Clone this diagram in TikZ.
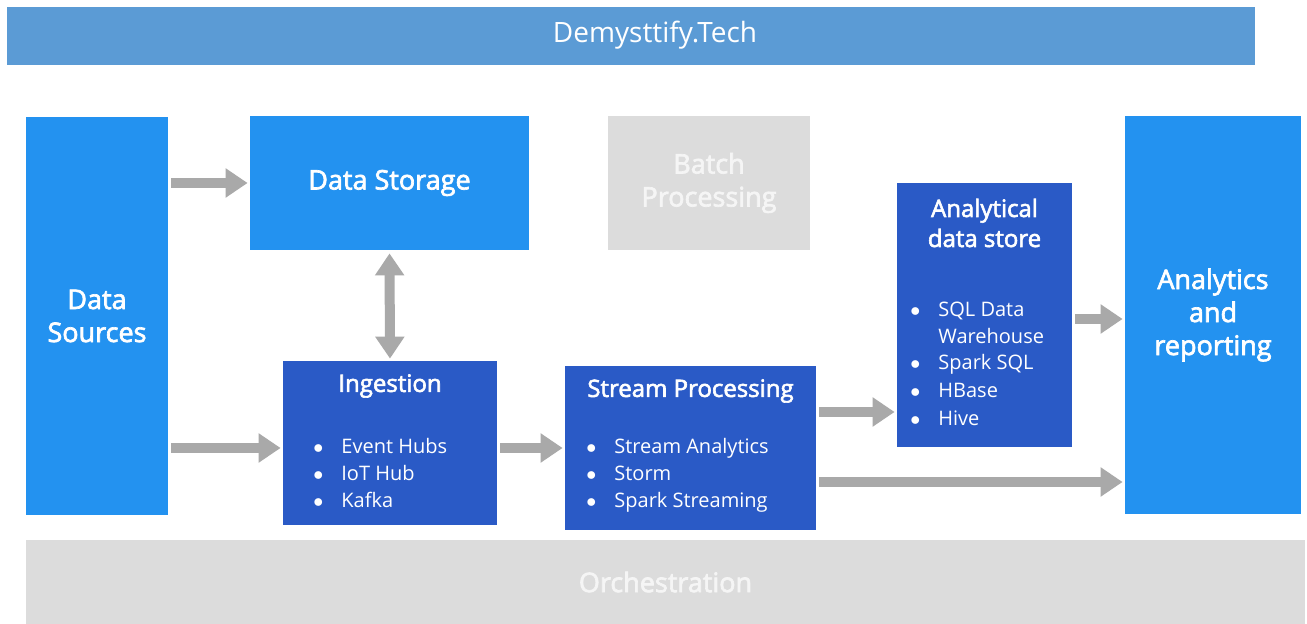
\documentclass[tikz,border=0pt]{standalone}
\usepackage{fontspec}
\setmainfont{Open Sans}
\newfontfamily\headfont[FakeBold=2.5]{Open Sans}
\usetikzlibrary{arrows.meta, positioning, calc}

\definecolor{titlebar}{HTML}{5B9BD5}
\definecolor{lightblue}{HTML}{2392F0}
\definecolor{darkblue}{HTML}{2A5AC6}
\definecolor{paleGray}{HTML}{DCDCDC}
\definecolor{arrowGray}{HTML}{A9A9A9}

\newcommand{\bul}{\llap{$\bullet$\hspace{9pt}}}

\begin{document}
\begin{tikzpicture}[
    x=0.5pt, y=-0.5pt,
    box/.style={rectangle, inner sep=0pt, text=white, align=center,
                font=\headfont\fontsize{13.5}{16.5}\selectfont},
    srcbox/.style={box, fill=lightblue},
    procbox/.style={box, fill=darkblue},
    greybox/.style={box, fill=paleGray, text=white!96!black},
    head/.style={text=white, inner sep=0pt, align=center,
                 font=\headfont\fontsize{12}{15}\selectfont},
    item/.style={text=white, inner sep=0pt, anchor=west,
                 text height=9.5pt, text depth=1.5pt,
                 font=\fontsize{10}{12}\selectfont},
    flow/.style={draw=arrowGray, line width=5pt,
                 -{Triangle[length=11pt, width=14pt]},
                 shorten <=1.5pt, shorten >=1pt},
    flowboth/.style={flow,
                 {Triangle[length=11pt, width=14pt]}-{Triangle[length=11pt, width=14pt]}}
  ]
  \useasboundingbox[fill=white] (0,0) rectangle (1307,624);

  % title
  \node[fill=titlebar, minimum width=624pt, minimum height=29pt, inner sep=0pt]
    (bar) at (631,36) {};
  \node[text=white, inner sep=0pt, font=\fontsize{14}{16}\selectfont]
    (title) at (655,35) {Demysttify.Tech};

  % boxes
  \node[srcbox, minimum width=71pt, minimum height=199pt] (src) at (97,316)
    {Data\\Sources};
  \node[srcbox, minimum width=139.5pt, minimum height=67pt] (store) at (389.5,183)
    {Data Storage};
  \node[greybox, minimum width=101pt, minimum height=67pt] (batch) at (709,183)
    {Batch\\Processing};
  \node[procbox, minimum width=87.5pt, minimum height=132pt] (ana) at (984.5,315) {};
  \node[srcbox, minimum width=88pt, minimum height=199pt] (rep) at (1213,315)
    {Analytics\\and\\reporting};
  \node[procbox, minimum width=107pt, minimum height=82pt] (ing) at (390,443) {};
  \node[procbox, minimum width=125.5pt, minimum height=82pt] (str) at (690.5,448) {};
  \node[greybox, minimum width=639.5pt, minimum height=42pt] (orch) at (665.5,582)
    {Orchestration};

  % box texts
  \node[head] (ingHead) at (390,386) {Ingestion};
  \node[item] (ing1) at (341,446) {\bul Event Hubs};
  \node[item] (ing2) at (341,473) {\bul IoT Hub};
  \node[item] (ing3) at (341,500) {\bul Kafka};

  \node[head] (strHead) at (690.5,391) {Stream Processing};
  \node[item] (str1) at (614,446) {\bul Stream Analytics};
  \node[item] (str2) at (614,473) {\bul Storm};
  \node[item] (str3) at (614,500) {\bul Spark Streaming};

  \node[head] (anaHead) at (984.5,223) {Analytical\\data store};
  \node[item] (ana1) at (938,309) {\bul SQL Data};
  \node[item] (ana1b) at (938,336) {Warehouse};
  \node[item] (ana2) at (938,362) {\bul Spark SQL};
  \node[item] (ana3) at (938,390) {\bul HBase};
  \node[item] (ana4) at (938,418) {\bul Hive};

  % connectors
  \draw[flow] (src.east |- store.west) -- (store.west);
  \draw[flow] (src.east |- str.west) -- (ing.west |- str.west);
  \draw[flowboth] (store.south) -- (ing.north);
  \draw[flow] (ing.east |- str.west) -- (str.west);
  \draw[flow] ([yshift=18pt]str.east) -- ([yshift=18pt]str.east -| ana.west);
  \draw[flow] (ana.east |- 0,319) -- (rep.west |- 0,319);
  \draw[flow] ([yshift=-17pt]str.east) -- ([yshift=-17pt]str.east -| rep.west);
\end{tikzpicture}
\end{document}
